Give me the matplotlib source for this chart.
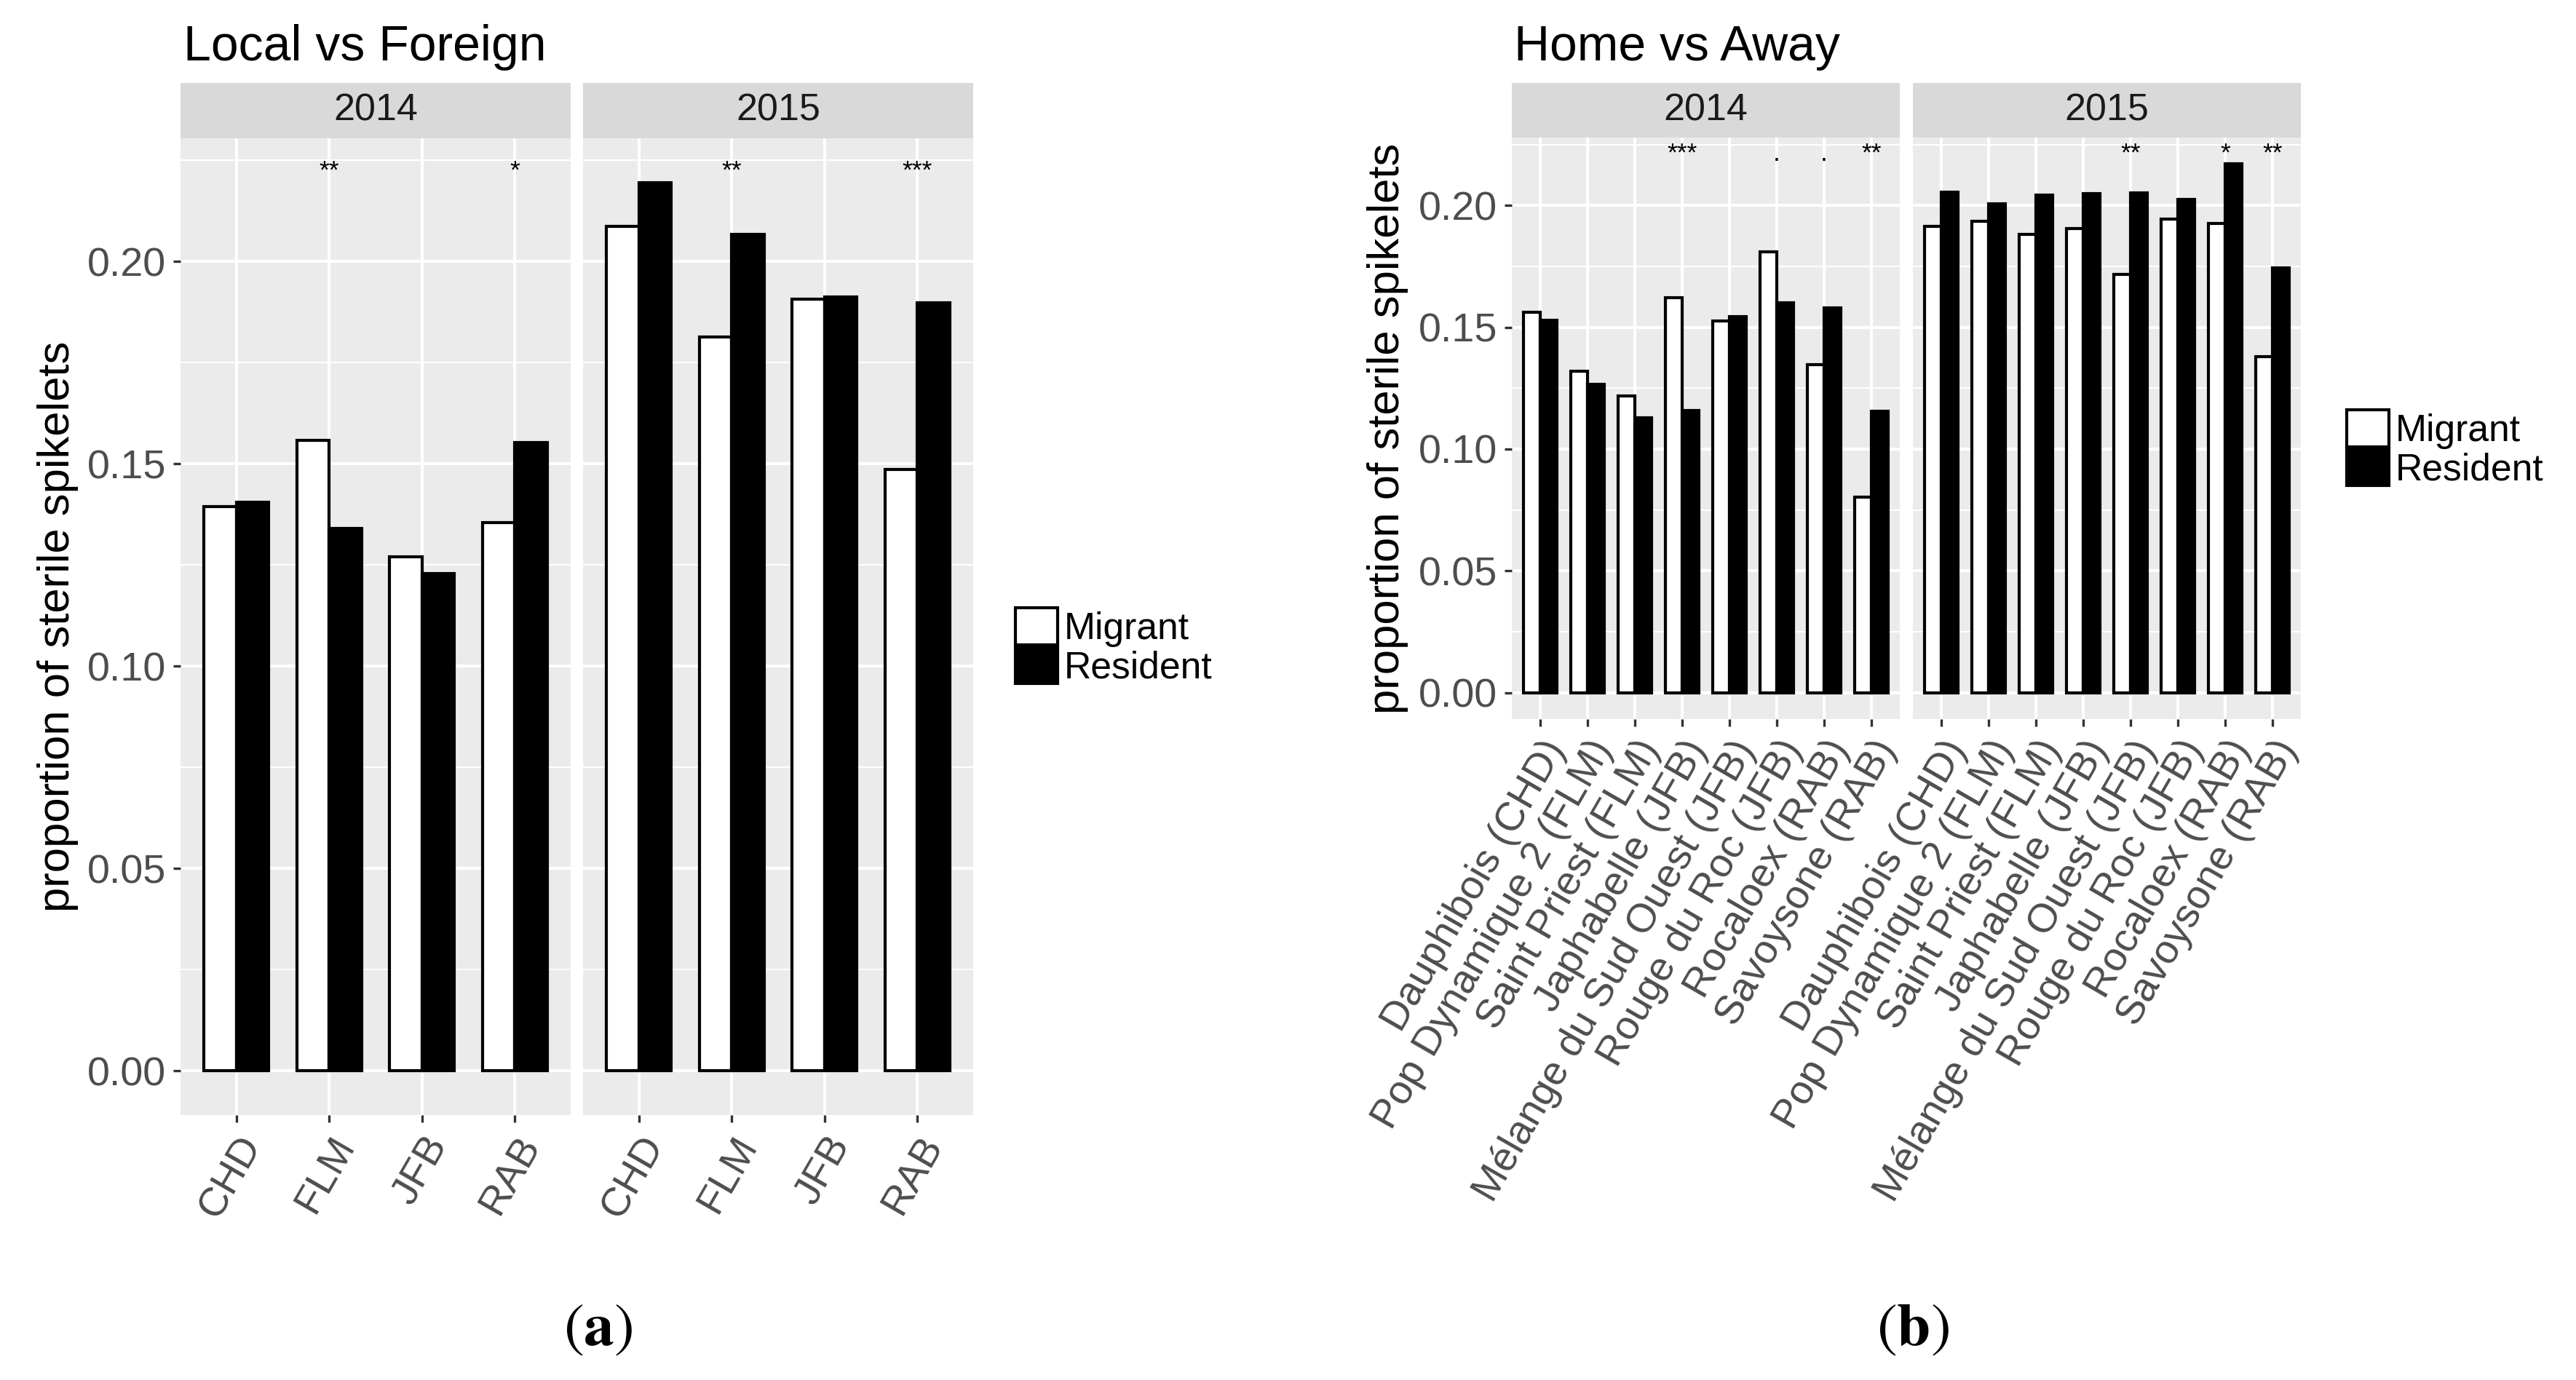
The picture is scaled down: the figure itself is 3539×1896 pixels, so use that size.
import matplotlib
matplotlib.use("Agg")
import matplotlib.pyplot as plt
import numpy as np

plt.rcParams['font.family'] = ['Liberation Sans', 'DejaVu Sans']

# ---------------- data ----------------
left_cats = ['CHD', 'FLM', 'JFB', 'RAB']
left_2014_migrant = [0.1395, 0.1558, 0.1271, 0.1355]
left_2014_resident = [0.1405, 0.1340, 0.1228, 0.1553]
left_2015_migrant = [0.2087, 0.1814, 0.1907, 0.1487]
left_2015_resident = [0.2195, 0.2067, 0.1913, 0.1898]
left_2014_sig = ['', '**', '', '*']
left_2015_sig = ['', '**', '', '***']

right_cats = ['Dauphibois (CHD)', 'Pop Dynamique 2 (FLM)', 'Saint Priest (FLM)',
              'Japhabelle (JFB)', 'Mélange du Sud Ouest (JFB)', 'Rouge du Roc (JFB)',
              'Rocaloex (RAB)', 'Savoysone (RAB)']
right_2014_migrant = [0.1561, 0.1321, 0.1217, 0.1620, 0.1527, 0.1808, 0.1347, 0.0804]
right_2014_resident = [0.1529, 0.1267, 0.1129, 0.1159, 0.1544, 0.1601, 0.1580, 0.1155]
right_2015_migrant = [0.1914, 0.1935, 0.1882, 0.1904, 0.1716, 0.1943, 0.1925, 0.1380]
right_2015_resident = [0.2055, 0.2007, 0.2041, 0.2048, 0.2051, 0.2024, 0.2170, 0.1743]
right_2014_sig = ['', '', '', '***', '', '.', '.', '**']
right_2015_sig = ['', '', '', '', '**', '', '*', '**']

years = ['2014', '2015']
series_labels = ['Migrant', 'Resident']
y_ticks = [0.00, 0.05, 0.10, 0.15, 0.20]
y_minor = [0.025, 0.075, 0.125, 0.175, 0.225]

# ---------------- layout ----------------
W, H = 3539, 1896
DPI = 300
fig = plt.figure(figsize=(W / DPI, H / DPI), dpi=DPI)
fig.patch.set_facecolor('white')


def px_axes(x0, y0, x1, y1):
    return fig.add_axes([x0 / W, 1 - y1 / H, (x1 - x0) / W, (y1 - y0) / H])


PANEL_BG = '#EBEBEB'
STRIP_BG = '#D9D9D9'
TICK_COL = '#333333'
TICKLAB_COL = '#4D4D4D'


def draw_chart(panel_x, y_top, y_bot, strip_top, cats, mig, res, sigs, sig_y,
               title, title_x, ylab_x, legend_x, legend_yc, sub_label, sub_x):
    n = len(cats)
    xs = np.arange(1, n + 1)
    ymax = max(max(max(m), max(r)) for m, r in zip(mig, res))
    lo, hi = -0.05 * ymax, 1.05 * ymax
    bw = 0.35
    handles = None
    for k, (x0, x1) in enumerate(panel_x):
        ax = px_axes(x0, y_top, x1, y_bot)
        ax.set_facecolor(PANEL_BG)
        for s in ax.spines.values():
            s.set_visible(False)
        ax.set_xlim(0.4, n + 0.6)
        ax.set_ylim(lo, hi)
        ax.set_yticks(y_ticks)
        ax.set_yticks(y_minor, minor=True)
        ax.set_xticks(xs)
        ax.grid(True, which='major', color='white', linewidth=0.96, zorder=0)
        ax.grid(True, which='minor', axis='y', color='white', linewidth=0.48, zorder=0)
        ax.set_axisbelow(True)
        bm = ax.bar(xs - bw / 2, mig[k], width=bw, color='white', edgecolor='black',
                    linewidth=1.0, zorder=2, label=series_labels[0])
        br = ax.bar(xs + bw / 2, res[k], width=bw, color='black', edgecolor='black',
                    linewidth=1.0, zorder=2, label=series_labels[1])
        handles = [bm, br]
        for xi, s in zip(xs, sigs[k]):
            if s:
                ax.text(xi, sig_y, s, ha='center', va='baseline', fontsize=8.5,
                        color='black', zorder=3)
        ax.tick_params(axis='both', which='major', length=2.4, width=0.8,
                       color=TICK_COL, labelcolor=TICKLAB_COL, labelsize=13.4, pad=2.4)
        ax.tick_params(axis='y', which='minor', length=0)
        ax.set_xticklabels(cats, rotation=60, ha='right', va='top',
                           rotation_mode='anchor')
        if k == 0:
            ax.set_yticklabels(['%.2f' % v for v in y_ticks])
        else:
            ax.tick_params(axis='y', which='major', length=0, labelleft=False)
        # strip
        sa = px_axes(x0, strip_top, x1, y_top)
        sa.set_facecolor(STRIP_BG)
        sa.set_xticks([])
        sa.set_yticks([])
        for s in sa.spines.values():
            s.set_visible(False)
        sa.text(0.5, 0.5, years[k], ha='center', va='center', fontsize=12.5,
                color='#1A1A1A', transform=sa.transAxes)
    fig.text(title_x / W, 1 - 83 / H, title, ha='left', va='baseline',
             fontsize=16.3, color='black')
    fig.text(ylab_x / W, 1 - ((y_top + y_bot) / 2) / H,
             'proportion of sterile spikelets', rotation=90, ha='center',
             va='center', fontsize=14.8, color='black')
    fig.legend(handles=handles, labels=series_labels, loc='center left',
               bbox_to_anchor=(legend_x / W, 1 - legend_yc / H), frameon=False,
               fontsize=12.4, handlelength=1.12, handleheight=1.12,
               handletextpad=0.17, labelspacing=0.0, borderpad=0.0,
               borderaxespad=0.0)
    fig.text(sub_x / W, 1 - 1848 / H, sub_label, ha='center', va='baseline',
             fontsize=20, math_fontfamily='stix', color='black')


draw_chart(panel_x=[(248, 784), (801, 1337)], y_top=190, y_bot=1532, strip_top=114,
           cats=left_cats,
           mig=[left_2014_migrant, left_2015_migrant],
           res=[left_2014_resident, left_2015_resident],
           sigs=[left_2014_sig, left_2015_sig], sig_y=0.2206,
           title='Local vs Foreign', title_x=252, ylab_x=80,
           legend_x=1395, legend_yc=889, sub_label=r'$(\mathbf{a})$', sub_x=822)

draw_chart(panel_x=[(2077, 2610), (2628, 3161)], y_top=189, y_bot=988, strip_top=114,
           cats=right_cats,
           mig=[right_2014_migrant, right_2015_migrant],
           res=[right_2014_resident, right_2015_resident],
           sigs=[right_2014_sig, right_2015_sig], sig_y=0.2184,
           title='Home vs Away', title_x=2080, ylab_x=1907,
           legend_x=3224, legend_yc=617, sub_label=r'$(\mathbf{b})$', sub_x=2628)

fig.savefig('out.png', dpi=DPI, facecolor='white')
